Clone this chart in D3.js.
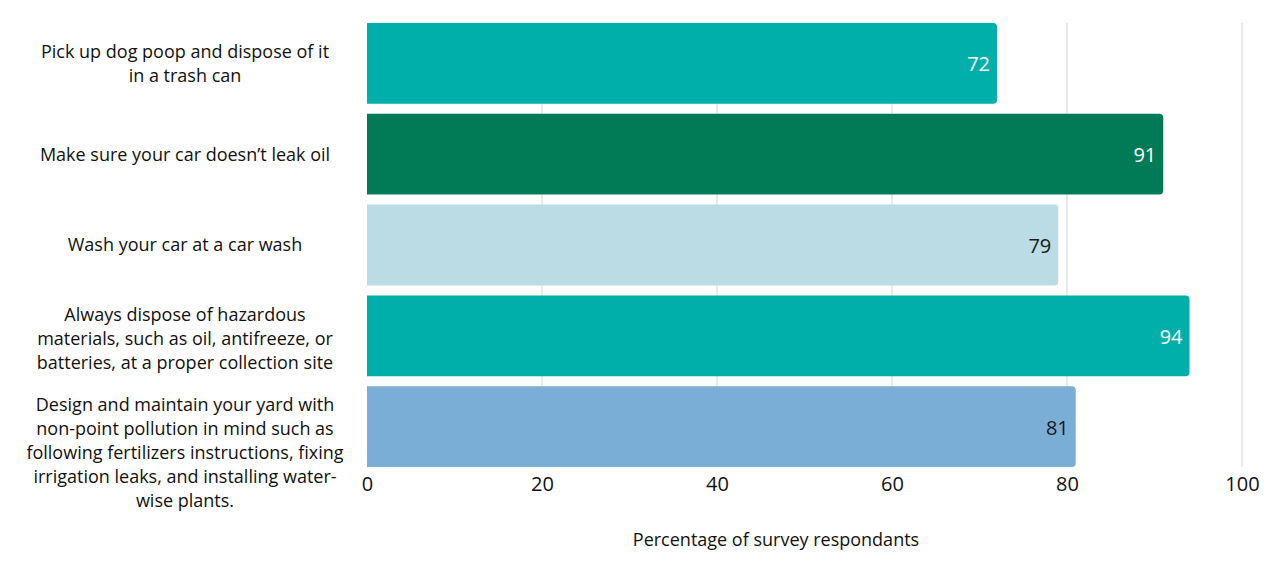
<!DOCTYPE html>
<html><head><meta charset="utf-8">
<script src="https://cdn.jsdelivr.net/npm/d3@7"></script>
<style>body{margin:0;background:#fff}svg{display:block}</style>
</head><body>
<svg id="c" width="1280" height="566"></svg>
<script>
const categories = [
  ["Pick up dog poop and dispose of it", "in a trash can"],
  ["Make sure your car doesn\u2019t leak oil"],
  ["Wash your car at a car wash"],
  ["Always dispose of hazardous", "materials, such as oil, antifreeze, or", "batteries, at a proper collection site"],
  ["Design and maintain your yard with", "non-point pollution in mind such as", "following fertilizers instructions, fixing", "irrigation leaks, and installing water-", "wise plants."]
];
const values = [72, 91, 79, 94, 81];
const barColors = ["#00AFAA", "#017B56", "#BBDBE5", "#00AFAA", "#7BAED6"];
const labelColors = ["#ffffff", "#ffffff", "#1a1a1a", "#ffffff", "#1a1a1a"];
const ticks = [0, 20, 40, 60, 80, 100];
const axisTitle = "Percentage of survey respondants";

const svg = d3.select("#c");
const x = d3.scaleLinear().domain([0, 100]).range([367, 1242]);
const y = d3.scaleBand().domain(d3.range(values.length)).range([18, 472])
  .paddingInner(0.11).paddingOuter(0.055);

// gridlines
svg.append("g").selectAll("line").data(ticks.slice(1)).join("line")
  .attr("x1", d => x(d)).attr("x2", d => x(d))
  .attr("y1", y(0)).attr("y2", y(values.length - 1) + y.bandwidth())
  .attr("stroke", "#d4d4d4").attr("stroke-width", 1);

// bars with rounded right corners
const r = 4;
function barPath(x0, x1, y0, h) {
  return `M${x0},${y0}H${x1 - r}Q${x1},${y0} ${x1},${y0 + r}V${y0 + h - r}Q${x1},${y0 + h} ${x1 - r},${y0 + h}H${x0}Z`;
}
svg.append("g").selectAll("path").data(values).join("path")
  .attr("d", (d, i) => barPath(x(0), x(d), y(i), y.bandwidth()))
  .attr("fill", (d, i) => barColors[i]);

// value labels
svg.append("g").selectAll("text").data(values).join("text")
  .attr("x", d => x(d) - 7)
  .attr("y", (d, i) => y(i) + y.bandwidth() / 2 + 1)
  .attr("dy", "0.35em")
  .attr("text-anchor", "end")
  .attr("font-family", "'Open Sans', sans-serif")
  .attr("font-size", 20)
  .attr("fill", (d, i) => labelColors[i])
  .text(d => d);

// x axis tick labels
const xAxis = d3.axisBottom(x).tickValues(ticks).tickSize(0).tickPadding(0);
const ax = svg.append("g").attr("transform", `translate(0,${477})`).call(xAxis);
ax.select(".domain").remove();
ax.selectAll("text").attr("font-family", "'Open Sans', sans-serif").attr("font-size", 20)
  .attr("fill", "#111").attr("dy", "0.71em");

// category labels
const lh = 24;
const cg = svg.append("g");
categories.forEach((lines, i) => {
  const c = y(i) + y.bandwidth() / 2;
  const first = Math.max(c - (lines.length - 1) * lh / 2, y(i) + 19);
  const t = cg.append("text").attr("text-anchor", "middle")
    .attr("font-family", "'Open Sans', sans-serif").attr("font-size", 18).attr("fill", "#111");
  lines.forEach((ln, j) => {
    t.append("tspan").attr("x", 185).attr("y", first + j * lh).attr("dy", "0.35em").text(ln);
  });
});

// axis title
svg.append("text").attr("x", 776).attr("y", 540).attr("dy", "0.35em")
  .attr("text-anchor", "middle").attr("font-family", "'Open Sans', sans-serif")
  .attr("font-size", 18).attr("fill", "#111").text(axisTitle);
</script>
</body></html>
